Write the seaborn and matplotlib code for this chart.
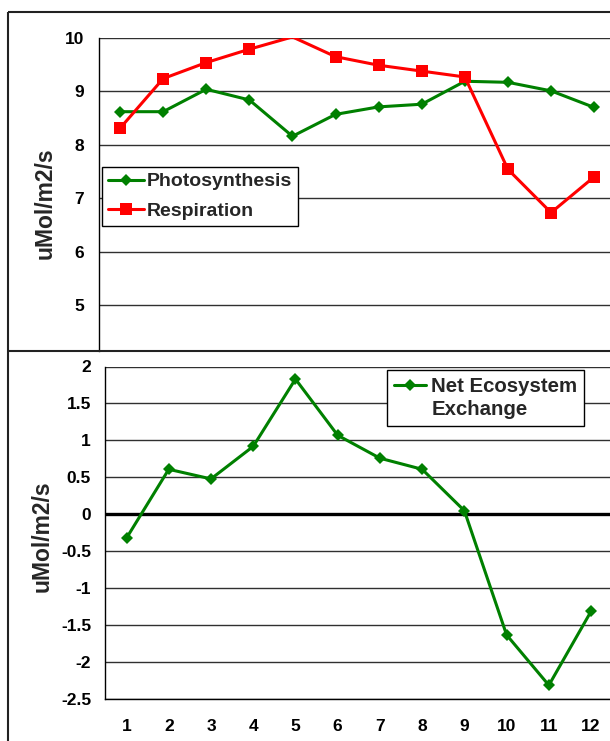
import matplotlib
matplotlib.use("Agg")
import numpy as np
import pandas as pd
import seaborn as sns
import matplotlib.pyplot as plt
from matplotlib.lines import Line2D

# Monthly CO2 fluxes
months = list(range(1, 13))
photosynthesis = [8.62, 8.62, 9.04, 8.84, 8.16, 8.57, 8.71, 8.76, 9.19, 9.17, 9.01, 8.70]
respiration = [8.31, 9.24, 9.54, 9.79, 10.02, 9.65, 9.49, 9.38, 9.27, 7.54, 6.73, 7.40]
nee = [-0.32, 0.61, 0.48, 0.92, 1.83, 1.07, 0.76, 0.61, 0.05, -1.63, -2.31, -1.31]

flux_ticks = [5, 6, 7, 8, 9, 10]
nee_ticks = [2, 1.5, 1, 0.5, 0, -0.5, -1, -1.5, -2, -2.5]
nee_tick_labels = ["2", "1.5", "1", "0.5", "0", "-0.5", "-1", "-1.5", "-2", "-2.5"]
month_labels = [str(m) for m in months]
unit_label = "uMol/m2/s"

sns.set_theme(style="white")
plt.rcParams["font.family"] = ["Liberation Sans", "DejaVu Sans"]
plt.rcParams["font.weight"] = "bold"
plt.rcParams["axes.unicode_minus"] = False

GREEN = "#008000"
RED = "#FF0000"
GRID = "#303030"

W, H = 610, 741
fig = plt.figure(figsize=(W / 100, H / 100), dpi=100)
fig.patch.set_facecolor("white")


def px_rect(left, top, right, bottom):
    return [left / W, 1 - bottom / H, (right - left) / W, (bottom - top) / H]


flux_top = 10.0
ax1 = fig.add_axes(px_rect(98.5, 38, 615.7, 351))
ax2 = fig.add_axes(px_rect(105.4, 366.5, 612.2, 699.3))

flux = pd.DataFrame({"month": months, "Photosynthesis": photosynthesis,
                     "Respiration": respiration})
net = pd.DataFrame({"month": months, "nee": nee})

# ---- upper panel: photosynthesis and respiration ----
ax1.set_ylim(flux_top - (351 - 38) / 53.4, flux_top)
ax1.set_xlim(0.5, 12.5)
for t in flux_ticks:
    ax1.axhline(t, color=GRID, lw=1.0, zorder=0)

sns.lineplot(data=flux, x="month", y="Photosynthesis", ax=ax1, color=GREEN,
             lw=2.2, marker="D", markersize=6.4, markeredgewidth=0,
             label="Photosynthesis", zorder=3)
# markers above the axis maximum are not drawn
resp_marks = [i for i, v in enumerate(respiration) if v <= flux_top]
sns.lineplot(data=flux, x="month", y="Respiration", ax=ax1, color=RED,
             lw=2.2, marker="s", markersize=8.5, markeredgewidth=0,
             markevery=resp_marks, label="Respiration", zorder=4)

ax1.set_yticks(flux_ticks)
ax1.set_yticklabels([str(t) for t in flux_ticks])
ax1.set_xticks([])
ax1.set_xlabel("")
ax1.set_ylabel(unit_label, fontsize=16.5, fontweight="bold")
ax1.yaxis.set_label_coords(45 / W, 1 - 203 / H, transform=fig.transFigure)
ax1.yaxis.label.set_va("center")
for s in ["top", "right", "bottom"]:
    ax1.spines[s].set_visible(False)
ax1.spines["left"].set_color("black")
ax1.spines["left"].set_linewidth(1.0)
ax1.tick_params(axis="y", direction="out", length=4.3, width=0.8,
                color="black", pad=6, labelsize=12.5, labelcolor="black")

leg1 = ax1.legend(loc="upper left", bbox_to_anchor=(102 / W, 1 - 167 / H),
                  bbox_transform=fig.transFigure, borderaxespad=0,
                  frameon=True, fancybox=False, edgecolor="black",
                  framealpha=1, prop={"weight": "bold", "size": 14},
                  handlelength=1.85, handletextpad=0.15, borderpad=0.3,
                  labelspacing=0.6)
leg1.get_frame().set_linewidth(1.0)
for h in leg1.legend_handles:
    h.set_markevery([1])

# ---- lower panel: net ecosystem exchange ----
ax2.set_ylim(-2.5, 2)
ax2.set_xlim(0.5, 12.5)
for t in nee_ticks:
    ax2.axhline(t, color=GRID, lw=1.0, zorder=0)
ax2.axhline(0, color="black", lw=2.4, zorder=2)

sns.lineplot(data=net, x="month", y="nee", ax=ax2, color=GREEN, lw=2.2,
             marker="D", markersize=6.4, markeredgewidth=0,
             label="Net Ecosystem", zorder=3)
ax2.plot([], [], color="none", label="Exchange")

ax2.set_yticks(nee_ticks)
ax2.set_yticklabels(nee_tick_labels)
ax2.set_xticks(np.arange(0.5, 13, 1))
ax2.set_xticklabels([])
ax2.set_xticks(months, minor=True)
ax2.set_xticklabels(month_labels, minor=True)
ax2.set_xlabel("")
ax2.set_ylabel(unit_label, fontsize=16.5, fontweight="bold")
ax2.yaxis.set_label_coords(42 / W, 1 - 536 / H, transform=fig.transFigure)
ax2.yaxis.label.set_va("center")
for s in ["top", "right"]:
    ax2.spines[s].set_visible(False)
for s in ["left", "bottom"]:
    ax2.spines[s].set_color("black")
    ax2.spines[s].set_linewidth(1.0)
ax2.tick_params(axis="y", direction="out", length=4.3, width=0.8,
                color="black", pad=6, labelsize=12.5, labelcolor="black")
ax2.tick_params(axis="x", which="major", direction="out", length=4.5,
                width=0.8, color="black")
ax2.tick_params(axis="x", which="minor", length=0, pad=14, labelsize=12.5,
                labelcolor="black")

leg2 = ax2.legend(loc="upper left", bbox_to_anchor=(386.7 / W, 1 - 370 / H),
                  bbox_transform=fig.transFigure, borderaxespad=0,
                  frameon=True, fancybox=False, edgecolor="black",
                  framealpha=1, prop={"weight": "bold", "size": 14.7},
                  handlelength=1.6, handletextpad=0.24, borderpad=0.34,
                  labelspacing=0.22)
leg2.get_frame().set_linewidth(1.0)

# ---- outer chart frames ----
fx = 8.3 / W
frame_kw = dict(transform=fig.transFigure, color="#222222", lw=1.5,
                solid_capstyle="butt")
fig.add_artist(Line2D([fx, fx], [0, 1 - 12 / H], **frame_kw))
fig.add_artist(Line2D([fx, 1], [1 - 12 / H, 1 - 12 / H], **frame_kw))
fig.add_artist(Line2D([fx, 1], [1 - 351 / H, 1 - 351 / H], **frame_kw))

fig.savefig("out.png", dpi=100, facecolor="white")
